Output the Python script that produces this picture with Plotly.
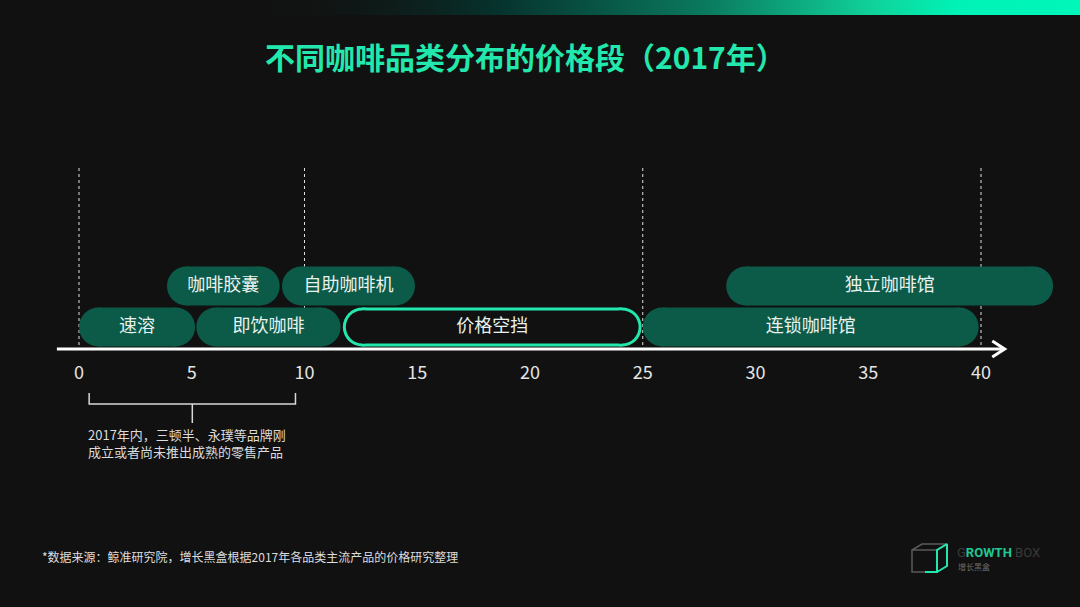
import plotly.graph_objects as go

W, H = 1080, 607
BG = "#111111"
BAR = "#0c5a48"
GREEN = "#22e8ad"
LABEL = "#e9f2ee"
FONT = "Noto Sans CJK SC"

# ── data ────────────────────────────────────────────────────────────────────
categories = ["速溶", "即饮咖啡", "价格空挡", "连锁咖啡馆", "咖啡胶囊", "自助咖啡机", "独立咖啡馆"]
price_low = [0.0, 5.2, 11.7, 25.0, 3.9, 9.0, 28.7]
price_high = [5.15, 11.6, 24.95, 39.9, 8.9, 14.9, 43.2]
level = [1, 1, 1, 1, 2, 2, 2]
is_gap = [False, False, True, False, False, False, False]

tick_values = [0, 5, 10, 15, 20, 25, 30, 35, 40]
boundaries = [0, 10, 25, 40]
note_range = [0.45, 9.6]
note_lines = ["2017年内，三顿半、永璞等品牌刚", "成立或者尚未推出成熟的零售产品"]

title = "不同咖啡品类分布的价格段（2017年）"
source = "*数据来源：鲸准研究院，增长黑盒根据2017年各品类主流产品的价格研究整理"

# ── pixel <-> data mapping (plot area = whole page) ────────────────────────
X0_PX, PX_PER_UNIT = 79, 22.55
ROW1_PX, ROW_PX = 327, 41
x_range = [-X0_PX / PX_PER_UNIT, (W - X0_PX) / PX_PER_UNIT]
y_range = [1 - (H - ROW1_PX) / ROW_PX, 1 + ROW1_PX / ROW_PX]


def yd(px):
    return 1 + (ROW1_PX - px) / ROW_PX


def pills(idx, thick_px, color, inset_px=0):
    # a pill = thick line between the two end-cap centres + round markers
    r = thick_px / 2 / PX_PER_UNIT
    ins = inset_px / PX_PER_UNIT
    xs, ys = [], []
    for i in idx:
        xs += [price_low[i] + ins + r, price_high[i] - ins - r, None]
        ys += [level[i], level[i], None]
    return go.Scatter(
        x=xs, y=ys, mode="lines+markers",
        line={"color": color, "width": thick_px},
        marker={"color": color, "size": thick_px, "line": {"width": 0}},
        hoverinfo="skip", showlegend=False, cliponaxis=False,
    )


THICK = 39
norm = [i for i in range(len(categories)) if not is_gap[i]]
gap = [i for i in range(len(categories)) if is_gap[i]]
traces = [
    pills(norm, THICK, BAR),
    pills(gap, THICK, GREEN),
    pills(gap, THICK - 6, BG, inset_px=3),
]

traces.append(go.Scatter(
    x=[(a + b) / 2 for a, b in zip(price_low, price_high)], y=level,
    mode="text", text=categories,
    textfont={"size": 18, "color": LABEL, "family": FONT},
    hoverinfo="skip", showlegend=False,
))

# top gradient strip (pixel overlay axes)
traces.append(go.Scatter(
    x=[250, W, W, 250, 250], y=[0, 0, 15, 15, 0], xaxis="x2", yaxis="y2",
    mode="lines", fill="toself", line={"width": 0},
    fillgradient={"type": "horizontal", "colorscale": [
        [0, "rgba(17,17,17,0)"], [0.3, "#06332d"], [0.55, "#0a7a5e"],
        [0.75, "#10d29a"], [0.85, "#00f2b6"], [1, "#00f7ba"]]},
    hoverinfo="skip", showlegend=False,
))

# logo cube
cube_gray = [(912, 550), (922, 544), (947, 544), (937, 550), (912, 550), (912, 572), (925, 572)]
cube_green = [(925, 572), (937, 572), (937, 550), (947, 544), (947, 566), (937, 572)]
traces.append(go.Scatter(
    x=[p[0] for p in cube_gray], y=[p[1] for p in cube_gray], xaxis="x2", yaxis="y2",
    mode="lines", line={"color": "#5a5a5a", "width": 1.5}, hoverinfo="skip", showlegend=False,
))
traces.append(go.Scatter(
    x=[p[0] for p in cube_green], y=[p[1] for p in cube_green], xaxis="x2", yaxis="y2",
    mode="lines", line={"color": GREEN, "width": 2}, hoverinfo="skip", showlegend=False,
))

fig = go.Figure(data=traces)

shapes = []
# axis line with arrow
axis_y = yd(349)
shapes.append({"type": "line", "xref": "x", "yref": "y", "x0": -0.98, "x1": 41.0,
               "y0": axis_y, "y1": axis_y, "line": {"color": "#ffffff", "width": 3}})
shapes.append({"type": "path", "xref": "x", "yref": "y",
               "path": f"M 40.5,{yd(341)} L 41.05,{axis_y} L 40.5,{yd(357)}",
               "line": {"color": "#ffffff", "width": 3}})
for b in boundaries:
    shapes.append({"type": "line", "xref": "x", "yref": "y", "x0": b, "x1": b,
                   "y0": yd(168), "y1": axis_y, "layer": "below",
                   "line": {"color": "#e0e0e0", "width": 1, "dash": "3px,3px"}})
lo, hi = note_range
mid = (lo + hi) / 2
shapes.append({"type": "path", "xref": "x", "yref": "y",
               "path": (f"M {lo},{yd(393)} L {lo},{yd(404)} L {hi},{yd(404)} L {hi},{yd(393)} "
                        f"M {mid},{yd(404)} L {mid},{yd(423)}"),
               "line": {"color": "#d8d8d8", "width": 1.5}})

annotations = [
    dict(text=f"<b>{title}</b>", xref="paper", yref="paper", x=525 / W, y=1 - 56 / H,
         xanchor="center", yanchor="middle",
         showarrow=False, font={"size": 30, "color": GREEN, "family": FONT}),
    dict(text="<br>".join(note_lines), xref="x", yref="y", x=lo - 0.15, y=yd(443),
         xanchor="left", yanchor="middle", align="left", showarrow=False,
         font={"size": 13, "color": "#dcdcdc", "family": FONT}),
    dict(text=source, xref="paper", yref="paper", x=40 / W, y=1 - 556 / H,
         xanchor="left", yanchor="middle", showarrow=False,
         font={"size": 12, "color": "#dddddd", "family": FONT}),
    dict(text=("<span style='color:#3a3a3a'>G</span><b>ROWTH</b>"
               "<span style='color:#3a3a3a'> BOX</span>"),
         xref="paper", yref="paper", x=955 / W, y=1 - 552 / H, xanchor="left",
         yanchor="middle", showarrow=False,
         font={"size": 13, "color": "#1fc795", "family": "Roboto"}),
    dict(text="增长黑盒", xref="paper", yref="paper", x=956 / W, y=1 - 566 / H,
         xanchor="left", yanchor="middle", showarrow=False,
         font={"size": 8, "color": "#6a6a6a", "family": FONT}),
]

fig.update_layout(
    width=W, height=H,
    paper_bgcolor=BG, plot_bgcolor=BG,
    margin={"l": 0, "r": 0, "t": 0, "b": 0},
    showlegend=False,
    font={"family": FONT, "color": "#e5e5e5"},
    xaxis={"range": x_range, "showgrid": False, "zeroline": False, "showline": False,
           "tickvals": tick_values, "ticks": "", "anchor": "free",
           "position": 1 - 349 / H, "ticklabelstandoff": 11,
           "tickfont": {"size": 18, "color": "#e5e5e5", "family": FONT},
           "fixedrange": True},
    yaxis={"range": y_range, "visible": False, "fixedrange": True},
    xaxis2={"range": [0, W], "overlaying": "x", "anchor": "y2", "visible": False},
    yaxis2={"range": [H, 0], "overlaying": "y", "anchor": "x2", "visible": False},
    shapes=shapes, annotations=annotations,
)

fig.write_html("out.html", config={"displayModeBar": False},
               post_script="document.body.style.margin='0';document.body.style.overflow='hidden';")
